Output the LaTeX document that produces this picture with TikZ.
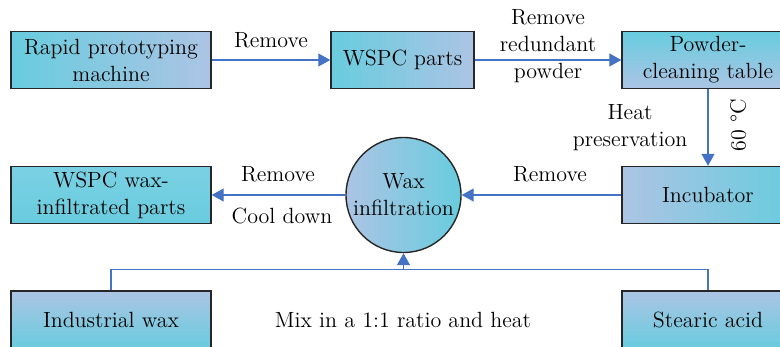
\documentclass[tikz,border=0pt]{standalone}
\usetikzlibrary{arrows.meta}
\definecolor{boxcyan}{RGB}{104,204,222}
\definecolor{boxlight}{RGB}{150,215,234}
\definecolor{boxlav}{RGB}{172,196,228}
\definecolor{flowblue}{RGB}{68,114,196}
\tikzset{
  box/.style={draw=black!85,line width=0.7pt,minimum height=28.5pt,align=center,inner sep=1pt},
  flow/.style={draw=flowblue,line width=0.6pt,-{Triangle[length=6pt,width=6.5pt]}},
  link/.style={draw=flowblue,line width=0.6pt},
  lbl/.style={align=center,inner sep=0pt},
}
\begin{document}
\begin{tikzpicture}[x=0.5pt,y=-0.5pt,font=\fontsize{11}{13.5}\selectfont]
\clip (0,0) rectangle (780,347);
% top row
\node[box,minimum width=100pt,left color=boxcyan,middle color=boxcyan!85!boxlight,right color=boxlav] (rpm) at (111,60) {Rapid prototyping\\machine};
\node[box,minimum width=71.5pt,left color=boxcyan,middle color=boxcyan!85!boxlight,right color=boxlav] (wspc) at (402.5,60) {WSPC parts};
\node[box,minimum width=86pt,top color=boxcyan,middle color=boxcyan,bottom color=boxlav] (pct) at (708,60) {Powder-\\cleaning table};
% middle row
\node[box,minimum width=86pt,left color=boxlav,middle color=boxcyan!75!boxlight,right color=boxcyan] (inc) at (708,195) {Incubator};
\node[box,circle,minimum size=57.5pt,inner sep=0pt,left color=boxlav,middle color=boxcyan!60!boxlight,right color=boxcyan] (wax) at (403.5,195) {Wax\\infiltration};
\node[box,minimum width=100pt,top color=boxcyan!60!boxlight,middle color=boxlav,bottom color=boxcyan] (wwp) at (111,195) {WSPC wax-\\infiltrated parts};
% bottom row
\node[box,minimum width=100pt,top color=boxlav,middle color=boxcyan!70!boxlight,bottom color=boxcyan] (iw) at (111,319.5) {Industrial wax};
\node[box,minimum width=86pt,top color=boxlav,middle color=boxcyan!70!boxlight,bottom color=boxcyan] (sa) at (708,319.5) {Stearic acid};
% connectors
\draw[flow] (rpm) -- (wspc);
\draw[flow] (wspc) -- (pct);
\draw[flow] (pct) -- (inc);
\draw[flow] (inc) -- (wax);
\draw[flow] (wax) -- (wwp);
\draw[link] (iw.north) -- ++(0,-21) coordinate (mixl) -| (sa.north);
\coordinate (mix) at (wax.south |- mixl);
\draw[flow] (mix) -- (wax.south);
% labels
\node[lbl] (l1) at (271,40) {Remove};
\node[lbl] (l2) at (548,46) {Remove\\redundant\\powder};
\node[lbl] (l3) at (630,128) {Heat\\preservation};
\node[lbl,rotate=90] (l4) at (738,125) {60 \textdegree C};
\node[lbl] (l5) at (550,174) {Remove};
\node[lbl] (l6) at (278,174) {Remove};
\node[lbl] (l7) at (282,216) {Cool down};
\node[lbl] (l8) at (403,320) {Mix in a 1:1 ratio and heat};
\end{tikzpicture}
\end{document}
